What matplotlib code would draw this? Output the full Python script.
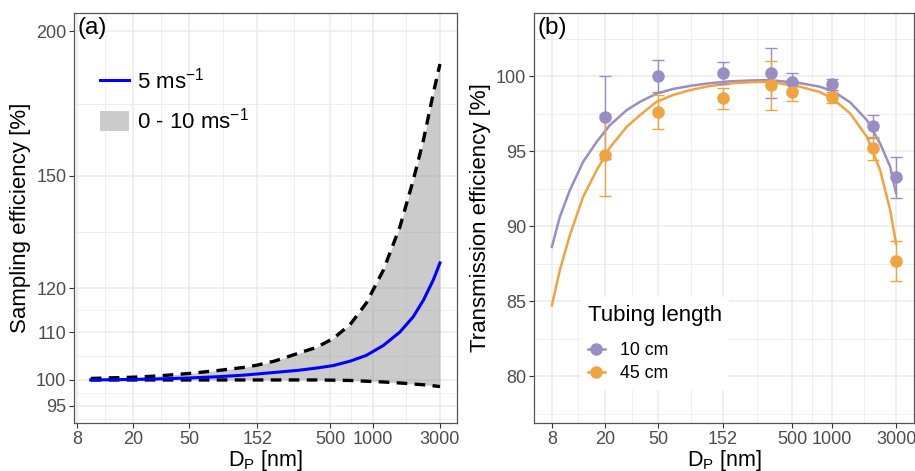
import numpy as np
import matplotlib
matplotlib.use("Agg")
import matplotlib.pyplot as plt
from matplotlib.lines import Line2D
from matplotlib.patches import Patch
from matplotlib.ticker import FixedLocator, NullFormatter, FixedFormatter

plt.rcParams['font.family'] = ['Liberation Sans', 'DejaVu Sans']
plt.rcParams['mathtext.fontset'] = 'custom'
plt.rcParams['mathtext.rm'] = 'Liberation Sans'
plt.rcParams['mathtext.it'] = 'Liberation Sans:italic'
plt.rcParams['mathtext.default'] = 'regular'

# (a) sampling efficiency vs particle diameter
dp_a = [10, 20, 30, 50, 80, 120, 152, 200, 300, 400, 525, 690, 900, 1190, 1560, 1940,
        2290, 2690, 3000]
eff_5ms = [100.0, 100.1, 100.2, 100.4, 100.65, 100.95, 101.2, 101.5, 101.95, 102.4, 102.9,
           103.8, 105.0, 107.1, 110.0, 113.4, 117.2, 122.0, 126.2]
eff_upper = [100.3, 100.55, 100.8, 101.3, 101.9, 102.5, 103.0, 103.8, 105.5, 106.7, 108.6,
             111.6, 116.5, 124.4, 135.6, 148.8, 161.1, 176.8, 187.4]
eff_lower = [100.0, 100.0, 100.0, 100.0, 100.0, 100.0, 100.0, 100.0, 100.0, 100.0, 99.95,
             99.9, 99.75, 99.6, 99.4, 99.2, 99.05, 98.85, 98.7]

# (b) transmission efficiency, fitted curves
dp_fit = [8, 9.17, 10.9, 13.7, 17.3, 21.7, 29, 36.5, 48.6, 65, 87, 120, 172, 250, 343, 574,
          800, 1003, 1362, 1816, 2282, 2712, 3000]
fit_10cm = [88.62, 90.62, 92.4, 94.29, 95.62, 96.73, 97.73, 98.29, 98.84, 99.15, 99.35,
            99.52, 99.65, 99.71, 99.73, 99.53, 99.3, 99.02, 98.25, 97.07, 95.51, 93.96, 92.2]
fit_45cm = [84.73, 87.07, 89.4, 91.96, 93.73, 95.24, 96.62, 97.4, 98.29, 98.75, 99.07,
            99.33, 99.51, 99.6, 99.62, 99.29, 98.95, 98.51, 97.51, 95.96, 93.73, 91.07, 88.84]

# (b) measured points with error bars
dp_meas = [20, 50, 152, 350, 500, 1000, 2000, 3000]
meas_10cm = [97.25, 100.02, 100.18, 100.18, 99.62, 99.44, 96.67, 93.29]
hi_10cm = [100.0, 101.07, 100.91, 101.84, 100.18, 99.78, 97.44, 94.62]
lo_10cm = [94.5, 98.97, 99.45, 98.51, 99.06, 99.1, 95.9, 91.91]
meas_45cm = [94.73, 97.58, 98.51, 99.4, 98.91, 98.58, 95.18, 87.67]
hi_45cm = [97.46, 98.73, 99.22, 101.02, 99.49, 98.94, 95.96, 89.0]
lo_45cm = [92.0, 96.47, 97.78, 97.73, 98.33, 98.22, 94.44, 86.33]

x_ticks = [8, 20, 50, 152, 500, 1000, 3000]
y_ticks_a = [95, 100, 110, 120, 150, 200]
y_ticks_b = [80, 85, 90, 95, 100]

c_10 = '#998ec3'
c_45 = '#f1a340'


def geo_minor(ticks):
    return [np.sqrt(a * b) for a, b in zip(ticks[:-1], ticks[1:])]


def style_axes(ax):
    ax.set_facecolor('white')
    ax.set_axisbelow(True)
    ax.grid(which='major', color='#EBEBEB', linewidth=1.1)
    ax.grid(which='minor', color='#EBEBEB', linewidth=0.6)
    for s in ax.spines.values():
        s.set_color('#555555')
        s.set_linewidth(0.9)
    ax.tick_params(which='major', direction='out', length=3.5, width=0.8,
                   color='#333333', labelcolor='#4D4D4D', labelsize=13, pad=2)
    ax.tick_params(which='minor', length=0)


fig = plt.figure(figsize=(9.15, 4.71), dpi=100)
ax1 = fig.add_axes([74 / 915, 48 / 471, 383 / 915, 410 / 471])
ax2 = fig.add_axes([534 / 915, 48 / 471, 380 / 915, 410 / 471])

# ---- panel (a)
ax1.set_xscale('log')
ax1.set_yscale('log')
ax1.fill_between(dp_a, eff_lower, eff_upper, color='#999999', alpha=0.5, linewidth=0)
ax1.plot(dp_a, eff_upper, color='black', lw=2.4, ls=(0, (3.2, 2.2)))
ax1.plot(dp_a, eff_lower, color='black', lw=2.4, ls=(0, (3.2, 2.2)))
ax1.plot(dp_a, eff_5ms, color='#0000FF', lw=2.2)
ax1.set_xlim(7.61, 3962)
ax1.set_ylim(91.8, 207.4)
ax1.xaxis.set_major_locator(FixedLocator(x_ticks))
ax1.xaxis.set_major_formatter(FixedFormatter([str(t) for t in x_ticks]))
ax1.xaxis.set_minor_locator(FixedLocator(geo_minor(x_ticks)))
ax1.xaxis.set_minor_formatter(NullFormatter())
ax1.yaxis.set_major_locator(FixedLocator(y_ticks_a))
ax1.yaxis.set_major_formatter(FixedFormatter([str(t) for t in y_ticks_a]))
ax1.yaxis.set_minor_locator(FixedLocator([92.6] + geo_minor(y_ticks_a)))
ax1.yaxis.set_minor_formatter(NullFormatter())
style_axes(ax1)
ax1.set_xlabel('D$_{P}$ [nm]', fontsize=15.5, labelpad=0)
ax1.set_ylabel('Sampling efficiency [%]', fontsize=16, labelpad=4)
ax1.text(0.008, 0.99, '(a)', transform=ax1.transAxes, ha='left', va='top', fontsize=17.5)

handles_a = [Line2D([], [], color='#0000FF', lw=2.2),
             Patch(facecolor='#CCCCCC', edgecolor='none')]
leg1 = ax1.legend(handles_a, ['5 ms$^{-1}$', '0 - 10 ms$^{-1}$'], loc='upper left',
                  bbox_to_anchor=(0.028, 0.905), frameon=False, fontsize=16,
                  handlelength=1.28, handleheight=1.0, handletextpad=0.35,
                  labelspacing=0.65, borderpad=0.2)

# ---- panel (b)
ax2.set_xscale('log')
ax2.plot(dp_fit, fit_10cm, color=c_10, lw=1.8)
ax2.plot(dp_fit, fit_45cm, color=c_45, lw=1.8)
for y, lo, hi, c in [(meas_10cm, lo_10cm, hi_10cm, c_10), (meas_45cm, lo_45cm, hi_45cm, c_45)]:
    yerr = [np.array(y) - np.array(lo), np.array(hi) - np.array(y)]
    ax2.errorbar(dp_meas, y, yerr=yerr, fmt='o', color=c, ms=8, capsize=4.5,
                 elinewidth=1.0, capthick=1.0)
ax2.set_xlim(5.88, 4087)
ax2.set_ylim(76.9, 104.2)
ax2.xaxis.set_major_locator(FixedLocator(x_ticks))
ax2.xaxis.set_major_formatter(FixedFormatter([str(t) for t in x_ticks]))
ax2.xaxis.set_minor_locator(FixedLocator(geo_minor(x_ticks)))
ax2.xaxis.set_minor_formatter(NullFormatter())
ax2.yaxis.set_major_locator(FixedLocator(y_ticks_b))
ax2.yaxis.set_minor_locator(FixedLocator([77.5, 82.5, 87.5, 92.5, 97.5, 102.5]))
ax2.yaxis.set_minor_formatter(NullFormatter())
style_axes(ax2)
ax2.set_xlabel('D$_{P}$ [nm]', fontsize=15.5, labelpad=0)
ax2.set_ylabel('Transmission efficiency [%]', fontsize=16, labelpad=4)
ax2.text(0.008, 0.99, '(b)', transform=ax2.transAxes, ha='left', va='top', fontsize=17.5)

handles_b = [Line2D([], [], color=c_10, lw=1.8, marker='o', ms=8),
             Line2D([], [], color=c_45, lw=1.8, marker='o', ms=8)]
leg2 = ax2.legend(handles_b, ['10 cm', '45 cm'], title='Tubing length', loc='lower left',
                  bbox_to_anchor=(0.1, 0.06), frameon=True, facecolor='white',
                  edgecolor='none', framealpha=1, fancybox=False, fontsize=12.8,
                  title_fontsize=16, handlelength=0.95, handletextpad=0.85,
                  labelspacing=0.35, borderpad=0.4, alignment='left')
leg2._legend_box.sep = 12

fig.savefig('out.png', dpi=100)
